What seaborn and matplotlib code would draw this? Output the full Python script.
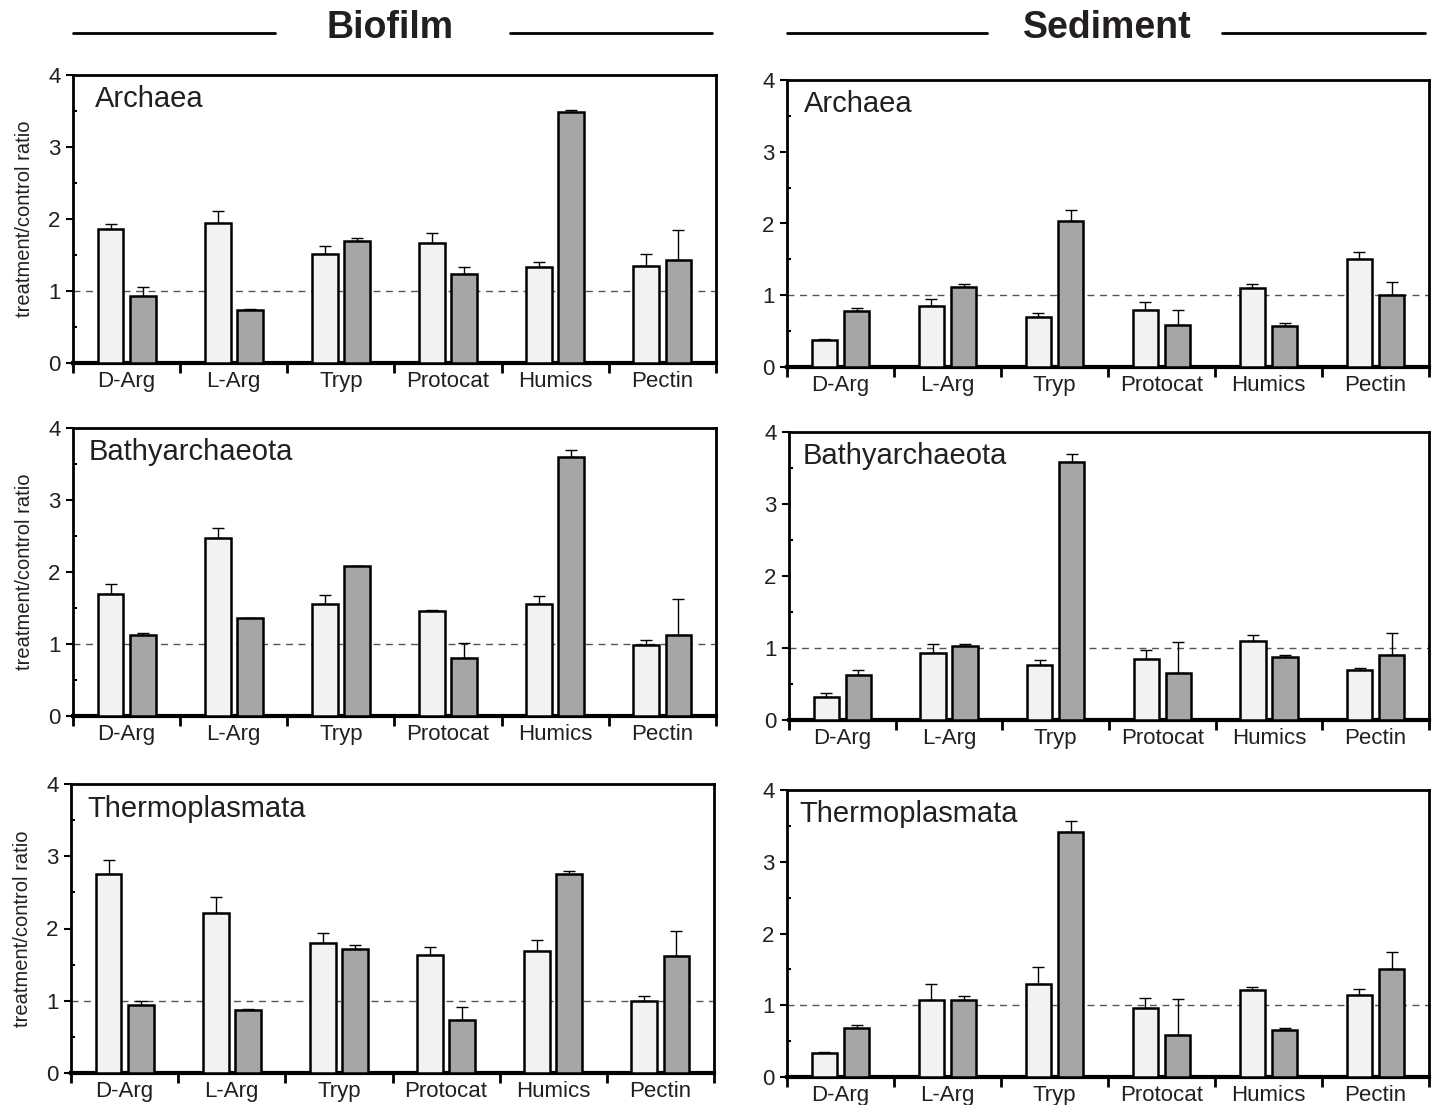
import matplotlib.pyplot as plt
import matplotlib.lines as mlines
import pandas as pd
import seaborn as sns
import numpy as np

# Substrates on x axis
substrates = ['D-Arg', 'L-Arg', 'Tryp', 'Protocat', 'Humics', 'Pectin']
groups = ['Archaea', 'Bathyarchaeota', 'Thermoplasmata']

# Biofilm: ratios for the light (first) and dark (second) bars, and their upper error
bio_archaea_light = [1.86, 1.94, 1.51, 1.66, 1.33, 1.35]
bio_archaea_light_err = [0.07, 0.17, 0.12, 0.15, 0.07, 0.16]
bio_archaea_dark = [0.93, 0.73, 1.69, 1.23, 3.49, 1.43]
bio_archaea_dark_err = [0.13, 0.02, 0.04, 0.10, 0.02, 0.42]

bio_bathy_light = [1.69, 2.47, 1.56, 1.46, 1.56, 0.98]
bio_bathy_light_err = [0.15, 0.14, 0.12, 0.01, 0.10, 0.08]
bio_bathy_dark = [1.13, 1.36, 2.09, 0.81, 3.60, 1.13]
bio_bathy_dark_err = [0.02, 0.0, 0.0, 0.20, 0.09, 0.50]

bio_thermo_light = [2.75, 2.22, 1.80, 1.64, 1.69, 0.99]
bio_thermo_light_err = [0.20, 0.21, 0.14, 0.10, 0.15, 0.07]
bio_thermo_dark = [0.94, 0.87, 1.71, 0.74, 2.75, 1.62]
bio_thermo_dark_err = [0.06, 0.01, 0.06, 0.17, 0.05, 0.35]

# Sediment
sed_archaea_light = [0.37, 0.85, 0.70, 0.80, 1.10, 1.51]
sed_archaea_light_err = [0.02, 0.10, 0.05, 0.10, 0.05, 0.09]
sed_archaea_dark = [0.78, 1.12, 2.03, 0.59, 0.57, 1.00]
sed_archaea_dark_err = [0.04, 0.03, 0.16, 0.21, 0.05, 0.18]

sed_bathy_light = [0.32, 0.93, 0.77, 0.85, 1.10, 0.70]
sed_bathy_light_err = [0.05, 0.12, 0.07, 0.12, 0.08, 0.02]
sed_bathy_dark = [0.63, 1.03, 3.59, 0.65, 0.88, 0.90]
sed_bathy_dark_err = [0.07, 0.02, 0.10, 0.43, 0.02, 0.31]

sed_thermo_light = [0.33, 1.08, 1.29, 0.96, 1.21, 1.14]
sed_thermo_light_err = [0.02, 0.21, 0.25, 0.14, 0.05, 0.09]
sed_thermo_dark = [0.68, 1.08, 3.42, 0.58, 0.65, 1.51]
sed_thermo_dark_err = [0.05, 0.05, 0.15, 0.51, 0.03, 0.23]

panels = {
    ('Biofilm', 'Archaea'): (bio_archaea_light, bio_archaea_light_err, bio_archaea_dark, bio_archaea_dark_err),
    ('Biofilm', 'Bathyarchaeota'): (bio_bathy_light, bio_bathy_light_err, bio_bathy_dark, bio_bathy_dark_err),
    ('Biofilm', 'Thermoplasmata'): (bio_thermo_light, bio_thermo_light_err, bio_thermo_dark, bio_thermo_dark_err),
    ('Sediment', 'Archaea'): (sed_archaea_light, sed_archaea_light_err, sed_archaea_dark, sed_archaea_dark_err),
    ('Sediment', 'Bathyarchaeota'): (sed_bathy_light, sed_bathy_light_err, sed_bathy_dark, sed_bathy_dark_err),
    ('Sediment', 'Thermoplasmata'): (sed_thermo_light, sed_thermo_light_err, sed_thermo_dark, sed_thermo_dark_err),
}

sns.set_style('ticks')
plt.rcParams['font.family'] = ['Liberation Sans', 'DejaVu Sans']
ink = '#231f20'

W, H = 1436, 1105
fig = plt.figure(figsize=(W / 100, H / 100), dpi=100)

# axes boxes in pixels: (left, top, right, bottom), plus x of the panel title
boxes = {
    ('Biofilm', 'Archaea'): (73, 75, 716, 363, 0.034),
    ('Biofilm', 'Bathyarchaeota'): (73, 428, 716, 716, 0.024),
    ('Biofilm', 'Thermoplasmata'): (71, 784, 714, 1073, 0.026),
    ('Sediment', 'Archaea'): (787, 80, 1429, 367, 0.027),
    ('Sediment', 'Bathyarchaeota'): (789, 432, 1429, 720, 0.022),
    ('Sediment', 'Thermoplasmata'): (787, 790, 1429, 1077, 0.02),
}

light_col = '#f2f2f0'
dark_col = '#a6a6a6'

for (site, grp), (lv, le, dv, de) in panels.items():
    l, t, r, b, tx = boxes[(site, grp)]
    ax = fig.add_axes([l / W, 1 - b / H, (r - l) / W, (b - t) / H])

    df = pd.DataFrame({
        'substrate': substrates * 2,
        'kind': ['light'] * 6 + ['dark'] * 6,
        'ratio': lv + dv,
    })
    sns.barplot(data=df, x='substrate', y='ratio', hue='kind', order=substrates,
                hue_order=['light', 'dark'], palette={'light': light_col, 'dark': dark_col},
                width=0.6, gap=0.2, errorbar=None, edgecolor='black', linewidth=1.8,
                legend=False, ax=ax, zorder=3)

    # upper error bars only
    for cont, errs in zip(ax.containers, [le, de]):
        xs = [p.get_x() + p.get_width() / 2 for p in cont]
        ys = [p.get_height() for p in cont]
        ax.errorbar(xs, ys, yerr=[np.zeros(len(errs)), errs], fmt='none',
                    ecolor='black', elinewidth=1.0, capsize=4, capthick=1.0, zorder=2)

    ax.axhline(1, color='#555555', lw=1.0, ls=(0, (5, 4)), zorder=1)

    ax.set_xlim(-0.5, 5.5)
    ax.set_ylim(0, 4)
    ax.set_yticks([0, 1, 2, 3, 4])
    ax.set_yticks([0.5, 1.5, 2.5, 3.5], minor=True)
    ax.tick_params(axis='y', which='major', direction='out', length=5, width=1.5,
                   labelsize=16, pad=4, colors='black', labelcolor=ink)
    ax.tick_params(axis='y', which='minor', direction='in', length=3, width=1.5,
                   colors='black')

    ax.set_xticks(np.arange(-0.5, 6, 1))
    ax.set_xticklabels([])
    ax.set_xticks(np.arange(6), minor=True)
    ax.set_xticklabels(substrates, minor=True)
    ax.tick_params(axis='x', which='major', direction='out', length=7, width=2,
                   colors='black')
    ax.tick_params(axis='x', which='minor', length=0, labelsize=16, pad=6,
                   labelcolor=ink)

    for side in ['top', 'right', 'left']:
        ax.spines[side].set_linewidth(2)
        ax.spines[side].set_color('black')
    ax.spines['bottom'].set_linewidth(3)
    ax.spines['bottom'].set_color('black')

    ax.set_xlabel('')
    if site == 'Biofilm':
        ax.set_ylabel('treatment/control ratio', fontsize=14.5, labelpad=10, color=ink)
    else:
        ax.set_ylabel('')

    ax.text(tx, 0.915, grp, transform=ax.transAxes, fontsize=21,
            ha='left', va='center', color=ink)

# column headers with rules
for name, cx, segs in [('Biofilm', 390, [(73, 275), (510, 712)]),
                       ('Sediment', 1107, [(787, 987), (1222, 1425)])]:
    fig.text(cx / W, 1 - 28 / H, name, fontsize=27, fontweight='bold',
             ha='center', va='center', color=ink)
    for x0, x1 in segs:
        fig.add_artist(mlines.Line2D([x0 / W, x1 / W], [1 - 33 / H, 1 - 33 / H],
                                     color='black', lw=2, transform=fig.transFigure))

fig.savefig('out.png', dpi=100)
